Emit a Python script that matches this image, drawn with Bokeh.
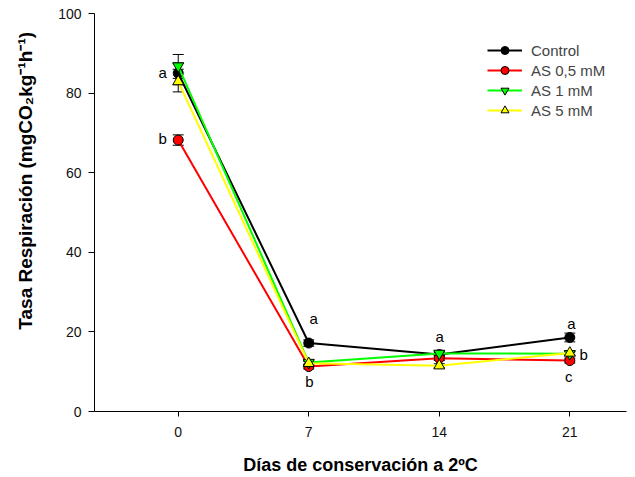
import math
from bokeh.plotting import figure
from bokeh.models import (ColumnDataSource, Whisker, TeeHead, Legend, LegendItem,
                          FixedTicker, Range1d)
from bokeh.core.properties import value
from bokeh.embed import file_html
from bokeh.resources import INLINE

# ---------------- data ----------------
days = [0, 7, 14, 21]
control = [85.0, 17.2, 14.3, 18.6]
control_err = [4.7, 0.8, 0.6, 1.1]
as05 = [68.2, 11.3, 13.4, 12.8]
as05_err = [1.3, 0.6, 0.6, 0.6]
as1 = [86.8, 12.3, 14.6, 14.5]
as1_err = [0.8, 0.5, 0.5, 0.5]
as5 = [82.9, 12.1, 11.5, 14.7]
as5_err = [0.8, 0.5, 0.5, 0.5]

series_names = ["Control", "AS 0,5 mM", "AS 1 mM", "AS 5 mM"]
series_values = [control, as05, as1, as5]
series_errors = [control_err, as05_err, as1_err, as5_err]
series_colors = ["#000000", "#ff0000", "#00ff00", "#ffff00"]
series_markers = ["circle", "circle", "inverted_triangle", "triangle"]

letter_text = ["a", "b", "a", "b", "a", "a", "b", "c"]
letter_x = [-0.84, -0.84, 7.26, 7.04, 14.02, 21.08, 21.74, 20.94]
letter_y = [85.2, 68.6, 23.3, 7.5, 18.9, 22.2, 14.3, 8.7]

x_ticks = [0, 7, 14, 21]
y_ticks = [0, 20, 40, 60, 80, 100]

x_title = "Días de conservación a 2ºC"
y_title = "Tasa Respiración (mgCO\u2082kg\u207b\u00b9h\u207b\u00b9)"

FONT = "Liberation Sans"
X0, X1 = -4.49, 24.04

p = figure(width=635, height=477, output_backend="svg", toolbar_location=None,
           x_range=Range1d(X0, X1), y_range=Range1d(0, 100),
           min_border_left=94, min_border_right=9, min_border_top=13,
           min_border_bottom=66)
p.outline_line_color = None
p.xgrid.visible = False
p.ygrid.visible = False
p.background_fill_color = "white"
p.border_fill_color = "white"

for ax in (p.xaxis[0], p.yaxis[0]):
    ax.axis_line_color = "black"
    ax.axis_line_width = 1
    ax.major_tick_line_color = "black"
    ax.minor_tick_line_color = None
    ax.major_tick_in = 0
    ax.major_label_text_font = FONT
    ax.major_label_text_font_size = "14px"
    ax.major_label_text_color = "#111111"
    ax.axis_label_text_font = FONT
    ax.axis_label_text_font_style = "bold"
    ax.axis_label_text_color = "black"

p.xaxis.axis_label_text_font_size = "18px"
p.yaxis.axis_label_text_font_size = "19px"

p.xaxis.ticker = FixedTicker(ticks=x_ticks)
p.yaxis.ticker = FixedTicker(ticks=y_ticks)
p.xaxis.major_tick_out = 5
p.yaxis.major_tick_out = 6
p.xaxis.major_label_standoff = 10
p.yaxis.major_label_standoff = 7

p.xaxis.axis_label = x_title
p.xaxis.axis_label_standoff = 15
# leading no-break spaces shift the centred rotated title upward, as in the source
p.yaxis.axis_label = "\u00a0" * 12 + y_title
p.yaxis.axis_label_standoff = 19

items = []
for name, vals, errs, col, mk in zip(series_names, series_values, series_errors,
                                       series_colors, series_markers):
    src = ColumnDataSource(dict(x=days, y=vals,
                                upper=[v + e for v, e in zip(vals, errs)],
                                lower=[v - e for v, e in zip(vals, errs)]))
    w = Whisker(source=src, base="x", upper="upper", lower="lower",
                line_color="black", line_width=1, level="underlay",
                upper_head=TeeHead(size=11, line_color="black", line_width=1),
                lower_head=TeeHead(size=11, line_color="black", line_width=1))
    p.add_layout(w)
    ln = p.line("x", "y", source=src, line_color=col, line_width=2)
    sc = p.scatter("x", "y", source=src, marker=mk, size=11 if mk != "circle" else 10,
                   fill_color=col, line_color="black", line_width=1)
    items.append(LegendItem(label=name, renderers=[ln, sc]))

p.text(x=letter_x, y=letter_y, text=letter_text, text_align="center",
       text_baseline="middle", text_font=value(FONT), text_font_size="15px",
       text_color="black")

legend = Legend(items=items, location=(393, 291), padding=0, margin=0,
                spacing=0, glyph_width=35, glyph_height=20, label_height=20,
                label_standoff=9, border_line_alpha=0, background_fill_alpha=0,
                label_text_font=FONT, label_text_font_size="15px")
p.add_layout(legend)

open("out.html", "w").write(file_html(p, INLINE))
